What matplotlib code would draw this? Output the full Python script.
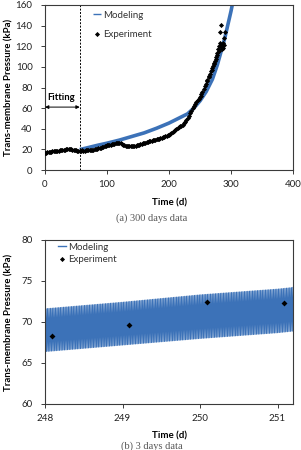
import numpy as np
import matplotlib
matplotlib.use("Agg")
import matplotlib.pyplot as plt

plt.rcParams['font.family'] = ['Lato', 'DejaVu Sans']

# ---------------- data: (a) 300 days ----------------
exp_days = [0, 2, 4, 6, 8, 10, 12, 14, 16, 18, 20, 22, 24, 26, 28, 30, 32, 34, 36, 38,
            40, 42, 44, 46, 48, 50, 52, 54, 56, 58, 60, 62, 64, 66, 68, 70, 72, 74, 76, 78,
            80, 82, 84, 86, 88, 90, 92, 94, 96, 98, 100, 102, 104, 106, 108, 110, 112, 114, 116, 118,
            120, 122, 124, 126, 128, 130, 132, 134, 136, 138, 140, 142, 144, 146, 148, 150, 152, 154, 156, 158,
            160, 162, 164, 166, 168, 170, 172, 174, 176, 178, 180, 182, 184, 186, 188, 190, 192, 194, 196, 198,
            200, 202, 204, 206, 208, 210, 212, 214, 216, 218, 220, 222, 224, 226, 228, 230, 232, 234, 236, 238,
            240, 242, 244, 246, 248, 250, 251, 252, 254, 256, 258, 260, 261, 262, 264, 265, 266, 268, 269, 270,
            271, 272, 273, 274, 275, 276, 277, 278, 279, 280, 281, 282, 282.3, 283.4, 284, 285, 286, 287, 287.6, 288,
            289, 290.8]
exp_tmp = [16.5, 16.9, 17.1, 17.4, 17.6, 17.8, 18.0, 18.3, 18.1, 18.6, 18.8, 18.7, 19.1, 19.3, 19.2, 19.5, 19.7, 19.9, 20.3, 20.1,
           20.4, 19.9, 19.5, 19.2, 19.0, 19.3, 18.9, 18.6, 18.4, 18.8, 19.0, 18.6, 18.9, 19.1, 19.3, 19.0, 19.2, 19.5, 19.3, 19.7,
           19.9, 20.3, 20.7, 21.1, 21.5, 21.8, 22.2, 22.7, 23.1, 23.5, 23.8, 24.1, 24.4, 24.7, 25.0, 25.3, 25.5, 25.8, 26.1, 26.0,
           26.3, 25.8, 25.2, 24.5, 23.9, 23.5, 23.1, 23.3, 23.0, 23.4, 23.2, 23.6, 23.3, 23.7, 24.0, 24.3, 24.7, 25.0, 25.4, 25.7,
           26.1, 26.5, 27.0, 27.3, 27.7, 28.0, 28.5, 28.7, 29.1, 29.4, 29.8, 30.1, 30.5, 30.9, 31.3, 31.7, 32.1, 32.6, 33.1, 33.6,
           34.2, 34.9, 35.8, 36.9, 38.0, 39.2, 40.2, 41.0, 41.7, 42.3, 43.0, 43.8, 45.2, 46.9, 48.7, 50.7, 52.8, 55.0, 57.3, 59.8,
           62.2, 64.2, 66.0, 67.6, 68.6, 70.5, 72.2, 73.5, 76.0, 78.8, 81.5, 83.8, 86.0, 87.5, 90.5, 91.0, 93.0, 96.0, 97.0, 99.0,
           101.0, 102.5, 104.0, 106.0, 108.0, 110.0, 112.0, 113.8, 117.7, 115.0, 120.0, 123.6, 133.4, 140.8, 119.0, 117.7, 121.0, 118.0, 123.6, 121.0,
           128.0, 133.4]
model_days = [56, 70, 85, 100, 120, 140, 160, 180, 200, 215, 230, 240, 250, 260, 270, 278, 285, 290, 295, 300, 303]
model_tmp = [19.8, 21.8, 24.0, 26.0, 29.0, 32.5, 36.0, 40.5, 45.5, 50.0, 54.5, 60.0, 67.0, 76.0, 88.0, 102.0, 117.0, 128.0, 141.0, 154.0, 163.0]
fitting_end = 56

# ---------------- data: (b) 3 days ----------------
exp3_days = [248.09, 249.09, 250.09, 251.09]
exp3_tmp = [68.3, 69.6, 72.4, 72.3]
env_days = [248.0, 249.0, 250.0, 251.0, 251.2]
env_low = [66.4, 67.2, 68.0, 68.7, 68.9]
env_high = [71.6, 72.4, 73.3, 74.0, 74.2]
cycles_per_day = 48

blue = '#3c72b8'
spine_c = '#3a3a3a'
W, H = 301, 450
fig = plt.figure(figsize=(W / 100, H / 100), dpi=100)

def px_axes(l, t, r, b):
    return fig.add_axes([l / W, 1 - b / H, (r - l) / W, (b - t) / H])

def style(ax):
    for s in ax.spines.values():
        s.set_color(spine_c)
        s.set_linewidth(0.8)
    ax.tick_params(direction='out', length=3, width=0.7, color=spine_c,
                   labelsize=7, labelcolor='#222222', pad=4)
    ax.tick_params(axis='y', pad=6)

def legend_fix(leg):
    for h in leg.legend_handles:
        if h.get_marker() == 'D':
            h.set_markersize(2.6)
        else:
            h.set_linewidth(1.0)
    for t in leg.get_texts():
        t.set_color('#333333')

# ---- top ----
ax1 = px_axes(45, 5, 293, 170)
style(ax1)
ax1.plot(model_days, model_tmp, color=blue, lw=2.6, label='Modeling', zorder=2, solid_capstyle='butt')
ax1.plot(exp_days, exp_tmp, ls='none', marker='D', ms=2.6, color='black', mew=0, label='Experiment', zorder=3)
ax1.axvline(fitting_end, color='black', ls=(0, (2, 1.5)), lw=0.7)
ax1.annotate('', xy=(0, 61), xytext=(fitting_end, 61),
             arrowprops=dict(arrowstyle='<|-|>', color='black', lw=0.7, mutation_scale=5, shrinkA=0, shrinkB=0))
ax1.text(4, 70, 'Fitting', fontsize=6.8, fontweight='bold', va='center', ha='left')
ax1.set_xlim(0, 400)
ax1.set_ylim(0, 160)
ax1.set_xticks([0, 100, 200, 300, 400])
ax1.set_yticks(range(0, 161, 20))
ax1.set_xlabel('Time (d)', fontsize=7, fontweight='bold')
ax1.xaxis.set_label_coords(0.5, -0.17)
ax1.set_ylabel('Trans-membrane Pressure (kPa)', fontsize=6.9, fontweight='bold')
ax1.yaxis.set_label_coords(-0.128, 0.5)
leg1 = ax1.legend(loc='upper left', bbox_to_anchor=(0.17, 1.0), frameon=False, fontsize=7,
                  handlelength=0.8, handletextpad=0.2, labelspacing=1.05, borderaxespad=0.2)
legend_fix(leg1)
fig.text(152 / W, 1 - 218 / H, '(a) 300 days data', family=['Liberation Serif'], fontsize=7.5,
         color='#555555', ha='center', va='center')

# ---- bottom ----
ax2 = px_axes(45, 240, 293, 404)
style(ax2)
n_turns = int(round((env_days[-1] - env_days[0]) * cycles_per_day * 2))
zig_x = np.linspace(env_days[0], env_days[-1], n_turns + 1)
lo = np.interp(zig_x, env_days, env_low)
hi = np.interp(zig_x, env_days, env_high)
zig_y = np.where(np.arange(n_turns + 1) % 2 == 0, lo, hi)
ax2.plot(zig_x, zig_y, color=blue, lw=0.9, label='Modeling', zorder=2)
ax2.plot(exp3_days, exp3_tmp, ls='none', marker='D', ms=3, color='black', mew=0, label='Experiment', zorder=3)
ax2.set_xlim(248, 251.2)
ax2.set_ylim(60, 80)
ax2.set_xticks([248, 249, 250, 251])
ax2.set_yticks([60, 65, 70, 75, 80])
ax2.set_xlabel('Time (d)', fontsize=7, fontweight='bold')
ax2.xaxis.set_label_coords(0.5, -0.17)
ax2.set_ylabel('Trans-membrane Pressure (kPa)', fontsize=6.9, fontweight='bold')
ax2.yaxis.set_label_coords(-0.128, 0.5)
leg2 = ax2.legend(loc='upper left', bbox_to_anchor=(0.03, 1.02), frameon=False, fontsize=7,
                  handlelength=0.8, handletextpad=0.2, labelspacing=0.35, borderaxespad=0.2)
legend_fix(leg2)
fig.text(152 / W, 1 - 446 / H, '(b) 3 days data', family=['Liberation Serif'], fontsize=7.5,
         color='#555555', ha='center', va='center')

fig.savefig('out.png', dpi=100)
